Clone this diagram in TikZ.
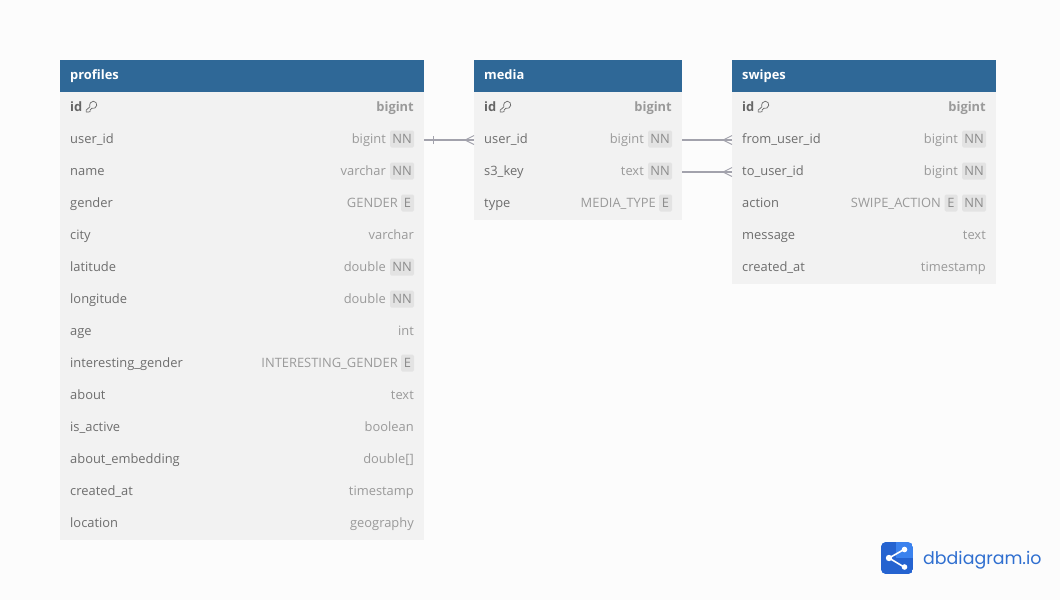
\documentclass[tikz,border=0pt]{standalone}
\usepackage{fontspec}
\setmainfont{Open Sans}
\newfontfamily\logofont{Poppins}
\definecolor{pagebg}{HTML}{FCFCFC}
\definecolor{headbg}{HTML}{2F6897}
\definecolor{rowbg}{HTML}{F2F2F2}
\definecolor{labelc}{HTML}{6E6E6E}
\definecolor{typec}{HTML}{9A9A9A}
\definecolor{boldc}{HTML}{666666}
\definecolor{badgebg}{HTML}{E3E3E3}
\definecolor{badgefg}{HTML}{8C8C8C}
\definecolor{linkc}{HTML}{A2A2AC}
\definecolor{logoa}{HTML}{2563D0}
\definecolor{logob}{HTML}{3B82EE}
\definecolor{logot}{HTML}{2F6FD0}
\tikzset{
  x=1pt,y=-1pt,
  cell/.style={inner sep=0pt,outer sep=0pt,minimum height=32pt,anchor=north west,fill=rowbg},
  headcell/.style={inner sep=0pt,outer sep=0pt,minimum height=32pt,anchor=north west,fill=headbg},
  headtext/.style={inner sep=0pt,anchor=base west,text=white,font=\fontsize{12.9}{13}\selectfont\bfseries},
  labeltext/.style={inner sep=0pt,anchor=base west,text=labelc,font=\fontsize{12.9}{13}\selectfont},
  typetext/.style={inner sep=0pt,anchor=base east,text=typec,font=\fontsize{12.9}{13}\selectfont},
  idtext/.style={inner sep=0pt,anchor=base west,text=boldc,font=\fontsize{12.9}{13}\selectfont\bfseries},
  idtype/.style={inner sep=0pt,anchor=base east,text=typec,font=\fontsize{12.9}{13}\selectfont\bfseries},
  badge/.style={inner sep=0pt,anchor=center,fill=badgebg,rounded corners=1.5pt,text=badgefg,minimum height=17pt,font=\fontsize{12.9}{13}\selectfont},
  link/.style={draw=linkc,line width=1.8pt},
  linkthin/.style={draw=linkc,line width=0.9pt},
  keyicon/.style={draw=boldc,line width=0.7pt,line join=round},
}
% id, left, right, top, label, type, offset of the type from the right edge
\newcommand{\tblrow}[7]{%
  \node[cell,minimum width=#3pt-#2pt] (#1) at (#2,#4) {};
  \node[labeltext] (#1L) at (#2+10,#4+19) {#5};
  \node[typetext] (#1T) at (#3-10-#7,#4+19) {#6};
}
\newcommand{\NNbadge}[3]{\node[badge,minimum width=24pt] (#1NN) at (#2-22,#3+15) {NN};}
\newcommand{\Ebadge}[4]{\node[badge,minimum width=13pt] (#1E) at (#2-16.5-#4,#3+15) {E};}
\newcommand{\idrow}[4]{%
  \node[cell,minimum width=#3pt-#2pt] (#1) at (#2,#4) {};
  \node[idtext] (#1L) at (#2+10,#4+19) {id};
  \node[idtype] (#1T) at (#3-10,#4+19) {bigint};
  \begin{scope}[shift={(#2+31.5,#4+14.5)}]
    \draw[keyicon] (-1.6,0.2) .. controls (-2.4,-2.8) and (-0.6,-5.3) .. (1.8,-5.3)
      .. controls (4.2,-5.3) and (5.6,-3) .. (5.2,-1) .. controls (4.8,1.4) and (2.4,2.4) .. (0.2,1.8)
      -- (-1.4,3.6) -- (-1.4,5.2) -- (-3.8,5.6) -- (-5.4,5.4) -- (-5.4,3.8) -- cycle;
  \end{scope}
}
\begin{document}
\begin{tikzpicture}
\useasboundingbox (0,0) rectangle (1060,600);
\fill[pagebg] (0,0) rectangle (1060,600);
% profiles
\node[headcell,minimum width=364pt] (profiles) at (60,60) {};
\node[headtext] (profilesH) at (70,79) {profiles};
\idrow{pid}{60}{424}{92}
\tblrow{puser}{60}{424}{124}{user\_id}{bigint}{28}\NNbadge{puser}{424}{124}
\tblrow{pname}{60}{424}{156}{name}{varchar}{28}\NNbadge{pname}{424}{156}
\tblrow{pgender}{60}{424}{188}{gender}{GENDER}{16}\Ebadge{pgender}{424}{188}{0}
\tblrow{pcity}{60}{424}{220}{city}{varchar}{0}
\tblrow{plat}{60}{424}{252}{latitude}{double}{28}\NNbadge{plat}{424}{252}
\tblrow{plon}{60}{424}{284}{longitude}{double}{28}\NNbadge{plon}{424}{284}
\tblrow{page}{60}{424}{316}{age}{int}{0}
\tblrow{pint}{60}{424}{348}{interesting\_gender}{INTERESTING\_GENDER}{16}\Ebadge{pint}{424}{348}{0}
\tblrow{pabout}{60}{424}{380}{about}{text}{0}
\tblrow{pact}{60}{424}{412}{is\_active}{boolean}{0}
\tblrow{pemb}{60}{424}{444}{about\_embedding}{double[]}{0}
\tblrow{pcre}{60}{424}{476}{created\_at}{timestamp}{0}
\tblrow{ploc}{60}{424}{508}{location}{geography}{0}
% media
\node[headcell,minimum width=208pt] (media) at (474,60) {};
\node[headtext] (mediaH) at (484,79) {media};
\idrow{mid}{474}{682}{92}
\tblrow{muser}{474}{682}{124}{user\_id}{bigint}{28}\NNbadge{muser}{682}{124}
\tblrow{mkey}{474}{682}{156}{s3\_key}{text}{28}\NNbadge{mkey}{682}{156}
\tblrow{mtype}{474}{682}{188}{type}{MEDIA\_TYPE}{16}\Ebadge{mtype}{682}{188}{0}
% swipes
\node[headcell,minimum width=264pt] (swipes) at (732,60) {};
\node[headtext] (swipesH) at (742,79) {swipes};
\idrow{sid}{732}{996}{92}
\tblrow{sfrom}{732}{996}{124}{from\_user\_id}{bigint}{28}\NNbadge{sfrom}{996}{124}
\tblrow{sto}{732}{996}{156}{to\_user\_id}{bigint}{28}\NNbadge{sto}{996}{156}
\tblrow{sact}{732}{996}{188}{action}{SWIPE\_ACTION}{45}\NNbadge{sact}{996}{188}\Ebadge{sact}{996}{188}{28.5}
\tblrow{smsg}{732}{996}{220}{message}{text}{0}
\tblrow{scre}{732}{996}{252}{created\_at}{timestamp}{0}
% connectors
\draw[link] (puser.east) -- (muser.west);
\draw[link] (muser.east) -- (sfrom.west);
\draw[link] (mkey.east) -- (sto.west);
\draw[linkthin] ([xshift=9pt,yshift=-4pt]puser.east) -- ([xshift=9pt,yshift=4pt]puser.east);
\foreach \n in {muser,sfrom,sto}{
  \draw[linkthin] ([xshift=-9pt]\n.west) -- ([yshift=-4.5pt]\n.west);
  \draw[linkthin] ([xshift=-9pt]\n.west) -- ([yshift=4.5pt]\n.west);
}
% logo
\begin{scope}
  \clip[rounded corners=5pt] (881,542) rectangle (913,574);
  \fill[logob] (881,542) rectangle (913,574);
  \fill[logoa] (881,542) rectangle (896,574);
  \fill[logoa] (896,558) rectangle (913,574);
\end{scope}
\draw[white,line width=1.6pt] (889,558) -- (904,549.5) (889,558) -- (904,567);
\fill[white] (889,558) circle (3.2) (904.5,549.5) circle (2.8) (904.5,567) circle (2.8);
\node[inner sep=0pt,anchor=base west,text=logot,font=\logofont\fontsize{17.4}{19}\selectfont] (logotext) at (923,564.5) {dbdiagram.io};
\end{tikzpicture}
\end{document}
